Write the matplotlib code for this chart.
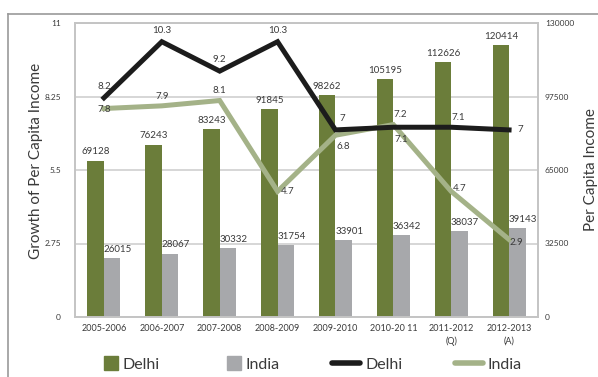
# -*- coding: utf-8 -*-
"""
Per capita income and growth, Delhi vs India
"""

import numpy as np
from matplotlib import pyplot as plt
from matplotlib.patches import Patch, Rectangle
from matplotlib.lines import Line2D
from matplotlib.legend_handler import HandlerPatch

# =============================================================================
# DATA
# =============================================================================
years = ['2005-2006', '2006-2007', '2007-2008', '2008-2009', '2009-2010',
         '2010-20 11', '2011-2012\n(Q)', '2012-2013\n(A)']
income_delhi = [69128, 76243, 83243, 91845, 98262, 105195, 112626, 120414]
income_india = [26015, 28067, 30332, 31754, 33901, 36342, 38037, 39143]
growth_delhi = [8.2, 10.3, 9.2, 10.3, 7.0, 7.1, 7.1, 7.0]
growth_india = [7.8, 7.9, 8.1, 4.7, 6.8, 7.2, 4.7, 2.9]

# label offsets in points (dx, dy) for the line labels
off_delhi = [(0, 8), (0, 8), (0, 8), (0, 8), (5, 8), (6, -9), (5, 7), (8, 0)]
off_india = [(0, -1), (0, 7), (0, 7), (7, 0), (6, -8), (5, 7), (6, 2), (5, -2)]
# =============================================================================

plt.rcParams['font.family'] = ['Lato', 'DejaVu Sans']

green = '#6b7d3a'
grey = '#a7a8ab'
black = '#1c1c1c'
lgreen = '#a4b288'
txt = '#3a3a3a'

fig = plt.figure(figsize=(5.98, 3.77), dpi=100)
ax = fig.add_axes([75/598, 1-317/377, 463/598, 294/377])   # income (bars)
ax2 = ax.twinx()                                            # growth (lines)

x = np.arange(len(years))
w = 0.285
ax.bar(x - w/2, income_delhi, w, color=green, zorder=2)
ax.bar(x + w/2, income_india, w, color=grey, zorder=2)
for i in range(len(x)):
    ax.annotate(str(income_delhi[i]), (x[i] - w/2, income_delhi[i]), xytext=(0, 3),
                textcoords='offset points', ha='center', va='bottom', fontsize=7, color=txt)
    ax.annotate(str(income_india[i]), (x[i] + w/2, income_india[i]), xytext=(4, 3),
                textcoords='offset points', ha='center', va='bottom', fontsize=7, color=txt)

ax.set_ylim(0, 130000)
ax.set_yticks([0, 32500, 65000, 97500, 130000])
ax.set_xlim(-0.5, len(x) - 0.5)
ax.set_xticks(x)
ax.set_xticklabels(years, fontsize=6.5, color=txt, linespacing=1.45)
ax.yaxis.tick_right()
ax.yaxis.set_label_position('right')
ax.tick_params(axis='both', length=0, labelsize=6, labelcolor=txt)
ax.tick_params(axis='x', labelsize=6.5, pad=5)
ax.tick_params(axis='y', pad=5)
ax.grid(axis='y', color='#cfcfcf', lw=1.2, zorder=0)
ax.set_axisbelow(True)
ax.set_ylabel('Per Capita Income', fontsize=11, color=txt, labelpad=7)

# lines on the twin so they sit over the bars
ax2.plot(x, growth_india, color=lgreen, lw=3.6, solid_joinstyle='miter', zorder=3)
ax2.plot(x, growth_delhi, color=black, lw=3.6, solid_joinstyle='miter', zorder=4)
for i in range(len(x)):
    ax2.annotate('%g' % growth_delhi[i], (x[i], growth_delhi[i]), xytext=off_delhi[i],
                 textcoords='offset points', ha='center', va='center', fontsize=7, color=txt)
    ax2.annotate('%g' % growth_india[i], (x[i], growth_india[i]), xytext=off_india[i],
                 textcoords='offset points', ha='center', va='center', fontsize=7, color=txt)
ax2.set_ylim(0, 11)
ax2.set_yticks([0, 2.75, 5.5, 8.25, 11])
ax2.set_yticklabels(['0', '2.75', '5.5', '8.25', '11'])
ax2.yaxis.tick_left()
ax2.yaxis.set_label_position('left')
ax2.tick_params(axis='y', length=0, labelsize=6, labelcolor=txt, pad=10)
ax2.set_ylabel('Growth of Per Capita Income', fontsize=11, color=txt)
ax2.yaxis.set_label_coords(-0.07, 0.53)

for a in (ax, ax2):
    for s in a.spines.values():
        s.set_color('#c4c4c4')
        s.set_linewidth(1.2)

# outer frame lines
fig.add_artist(Line2D([8/598, 1], [1-14/377, 1-14/377], color='#9a9a9a', lw=1.2))
fig.add_artist(Line2D([8/598, 8/598], [0, 1-14/377], color='#9a9a9a', lw=1.2))


def square(legend, orig_handle, xdescent, ydescent, width, height, fontsize):
    return Rectangle((width - height - xdescent, -ydescent), height, height)


handles = [Patch(color=green), Patch(color=grey),
           Line2D([], [], color=black, lw=4, solid_capstyle='round'),
           Line2D([], [], color=lgreen, lw=4, solid_capstyle='round')]
fig.legend(handles, ['Delhi', 'India', 'Delhi', 'India'], ncol=4, frameon=False,
           loc='center', bbox_to_anchor=(306/598, 1-364/377), fontsize=11.5,
           handlelength=1.75, handleheight=0.95, handletextpad=0.3, columnspacing=3.3,
           labelcolor=txt, handler_map={Patch: HandlerPatch(patch_func=square)})

plt.savefig('out.png', dpi=100)
